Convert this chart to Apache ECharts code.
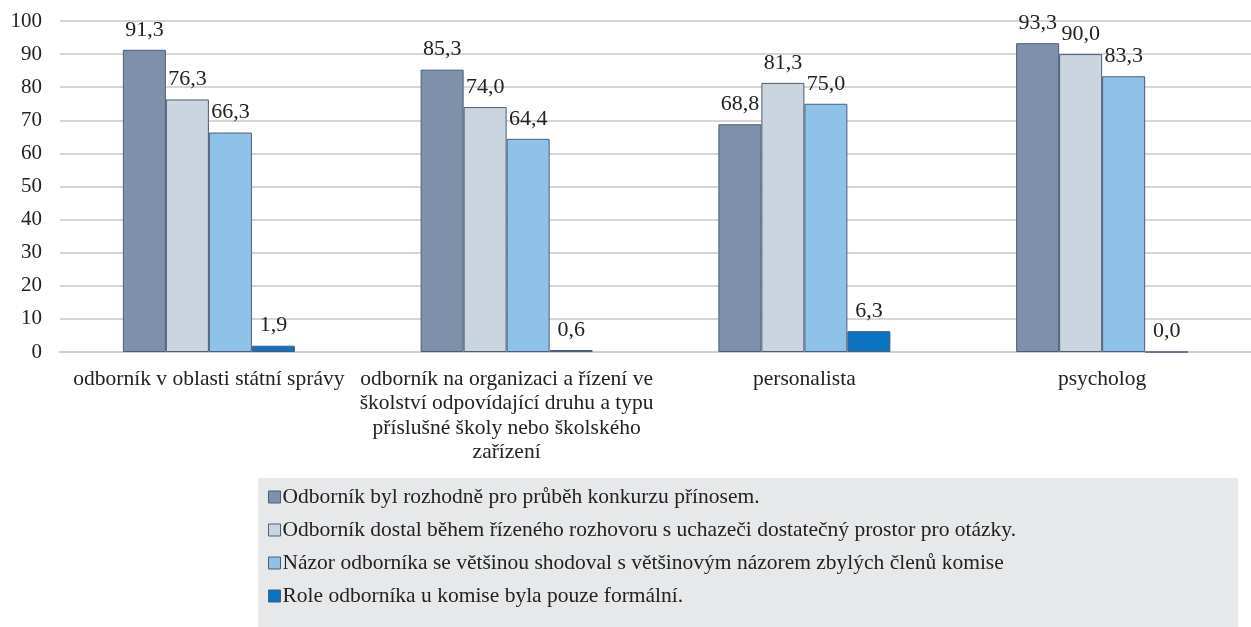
<!DOCTYPE html>
<html>
<head>
<meta charset="utf-8">
<script src="https://cdn.jsdelivr.net/npm/echarts@6/dist/echarts.min.js"></script>
<style>
html, body { margin: 0; padding: 0; background: #fff; }
#chart { width: 1251px; height: 627px; }
</style>
</head>
<body>
<div id="chart"></div>
<script>
// kategorie (typ odborníka)
var categories = [
    'odborník v oblasti státní správy',
    'odborník na organizaci a řízení ve\nškolství odpovídající druhu a typu\npříslušné školy nebo školského\nzařízení',
    'personalista',
    'psycholog'
];

// názvy řad (legenda)
var seriesNames = [
    'Odborník byl rozhodně pro průběh konkurzu přínosem.',
    'Odborník dostal během řízeného rozhovoru s uchazeči dostatečný prostor pro otázky.',
    'Názor odborníka se většinou shodoval s většinovým názorem zbylých členů komise',
    'Role odborníka u komise byla pouze formální.'
];

// hodnoty v %
var valuesPrinos = [91.3, 85.3, 68.8, 93.3];
var valuesProstor = [76.3, 74.0, 81.3, 90.0];
var valuesShoda = [66.3, 64.4, 75.0, 83.3];
var valuesFormalni = [1.9, 0.6, 6.3, 0.0];

var yTicks = [0, 10, 20, 30, 40, 50, 60, 70, 80, 90, 100];

var colors = ['#7f91aa', '#cbd5df', '#8ec2e8', '#0b74c1'];
var font = 'Liberation Serif';

function makeSeries(name, data, color) {
    return {
        name: name,
        type: 'bar',
        data: data,
        barWidth: 43,
        barGap: '0%',
        itemStyle: { color: color, borderColor: '#4a5d78', borderWidth: 1 },
        label: {
            show: true,
            position: 'top',
            distance: 9,
            fontFamily: font,
            fontSize: 22,
            color: '#222',
            formatter: function (p) { return p.value.toFixed(1).replace('.', ','); }
        }
    };
}

var option = {
    animation: false,
    textStyle: { fontFamily: font },
    grid: { left: 60, right: 0, top: 21, bottom: 275 },
    legend: {
        orient: 'vertical',
        left: 258,
        top: 478,
        padding: [8, 222, 20, 10],
        itemGap: 11,
        itemWidth: 12,
        itemHeight: 12,
        icon: 'rect',
        backgroundColor: '#e7e8ea',
        textStyle: { fontFamily: font, fontSize: 21.5, color: '#222', padding: [0, 0, 0, -3] },
        itemStyle: { borderColor: '#4a5d78', borderWidth: 1 },
        data: seriesNames
    },
    xAxis: {
        type: 'category',
        data: categories,
        axisLine: { lineStyle: { color: '#d0d0d0', width: 2 } },
        axisTick: { show: false },
        axisLabel: {
            interval: 0,
            margin: 15,
            fontFamily: font,
            fontSize: 21.5,
            lineHeight: 24.5,
            color: '#222',
            align: 'center'
        }
    },
    yAxis: {
        type: 'value',
        min: yTicks[0],
        max: yTicks[yTicks.length - 1],
        interval: 10,
        axisLine: { show: false },
        axisTick: { show: false },
        splitLine: { lineStyle: { color: '#d6d6d6', width: 2 } },
        axisLabel: { fontFamily: font, fontSize: 21, color: '#222', margin: 18 }
    },
    series: [
        makeSeries(seriesNames[0], valuesPrinos, colors[0]),
        makeSeries(seriesNames[1], valuesProstor, colors[1]),
        makeSeries(seriesNames[2], valuesShoda, colors[2]),
        makeSeries(seriesNames[3], valuesFormalni, colors[3])
    ]
};

echarts.init(document.getElementById('chart')).setOption(option);
</script>
</body>
</html>
